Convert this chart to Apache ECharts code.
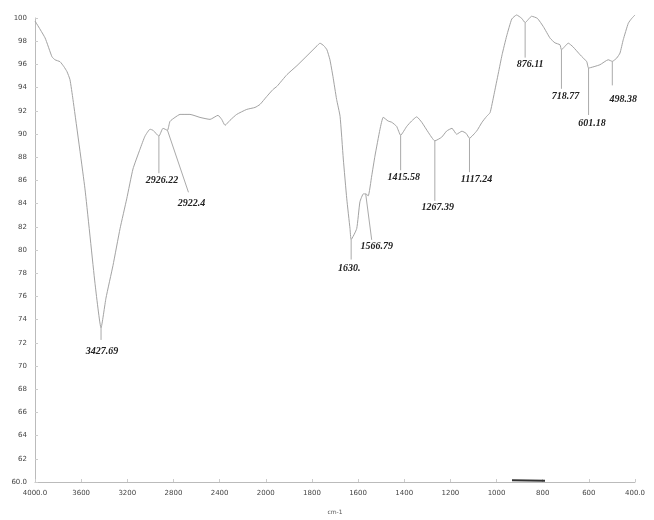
<!DOCTYPE html>
<html><head><meta charset="utf-8">
<script src="https://cdn.jsdelivr.net/npm/echarts@6/dist/echarts.min.js"></script>
<style>html,body{margin:0;padding:0;background:#fff}#c{width:654px;height:520px}</style>
</head><body><div id="c"></div>
<script>
// ---- data ----
const wavenumbers = [4000, 3913, 3853, 3827, 3783, 3749, 3723, 3697, 3671, 3567, 3480, 3427.69, 3385, 3324, 3263, 3205, 3151, 3090, 3047, 3003, 2977, 2926.22, 2891, 2852, 2830, 2787, 2743, 2657, 2570, 2483, 2414, 2382, 2353, 2310, 2252, 2165, 2093, 2050, 1996, 1969, 1951, 1908, 1865, 1821, 1778, 1765, 1748, 1735, 1722, 1709, 1693, 1678, 1664, 1649, 1635, 1630, 1606, 1592, 1577, 1567, 1556, 1541, 1527, 1505, 1491, 1470, 1454, 1433, 1415.58, 1389, 1368, 1346, 1324, 1296, 1267.39, 1238, 1216, 1193, 1173, 1150, 1132, 1117.24, 1086, 1063, 1043, 1028, 1011, 992, 976, 956, 934, 913, 891, 876.11, 848, 823, 797, 768, 747, 725, 718.77, 689, 669, 638, 609, 601.18, 552, 516, 498.38, 479, 465, 451, 429, 414, 400];
const transmittance = [99.74, 98.29, 96.66, 96.40, 96.23, 95.80, 95.38, 94.69, 92.98, 85.27, 77.13, 73.28, 75.85, 78.67, 81.84, 84.41, 86.98, 88.69, 89.81, 90.41, 90.32, 89.81, 90.49, 90.32, 91.09, 91.43, 91.69, 91.69, 91.43, 91.26, 91.61, 91.26, 90.75, 91.18, 91.69, 92.12, 92.29, 92.55, 93.23, 93.83, 94.12, 95.12, 95.89, 96.75, 97.60, 97.83, 97.60, 97.26, 96.40, 94.97, 92.98, 91.52, 87.84, 84.41, 81.84, 80.90, 81.84, 84.15, 84.84, 84.84, 84.67, 86.38, 88.09, 90.41, 91.44, 91.12, 91.01, 90.66, 89.89, 90.66, 91.12, 91.48, 91.01, 90.15, 89.41, 89.72, 90.26, 90.49, 89.98, 90.24, 90.06, 89.64, 90.26, 91.01, 91.52, 91.84, 93.40, 95.26, 96.83, 98.46, 99.91, 100.26, 99.97, 99.60, 100.15, 99.97, 99.25, 98.26, 97.86, 97.69, 97.26, 97.83, 97.52, 96.83, 96.23, 95.69, 95.97, 96.40, 96.26, 96.55, 96.98, 98.12, 99.55, 99.97, 100.26];
const xTickLabels = ['4000.0', '3600', '3200', '2800', '2400', '2000', '1800', '1600', '1400', '1200', '1000', '800', '600', '400.0'];
const yMin = 60, yMax = 100, yStep = 2;
const peakLabels = ['3427.69', '2926.22', '2922.4', '1630.', '1566.79', '1415.58', '1267.39', '1117.24', '876.11', '718.77', '601.18', '498.38'];
const peakAnchors = [3427.69, 2926.22, 2852, 1630, 1567, 1415.58, 1267.39, 1117.24, 876.11, 718.77, 601.18, 498.38];
const artifactW = [933, 790];
const artifactV = [60.15, 60.1];
const xAxisName = 'cm-1';

// ---- layout / styles ----
// leader line [dx, dy] and label offset [dx, dy] from leader end, in pixels
const leaderLayout = [
  [0, 12, 1, 11], [0, 37, 3, 7], [21, 62, 3, 11], [0, 20, -2, 9],
  [6, 46, 5, 7], [0, 35, 3, 7], [0, 60, 3, 7], [0, 34, 7, 7],
  [0, 35, 5, 7], [0, 39, 4, 8], [0, 47, 3.5, 8], [0, 24, 11, 14]
];

// FTIR axis: 400 cm-1 per division above 2000, 200 cm-1 per division below
function toU(w) { return w >= 2000 ? (4000 - w) / 400 : 5 + (2000 - w) / 200; }

const curve = wavenumbers.map((w, i) => [toU(w), transmittance[i]]);
function valueAt(w) {
  let best = 0;
  wavenumbers.forEach((x, i) => { if (Math.abs(x - w) < Math.abs(wavenumbers[best] - w)) best = i; });
  return transmittance[best];
}
const peaks = peakAnchors.map((w, i) => [toU(w), valueAt(w), i]);

const chart = echarts.init(document.getElementById('c'), null, { renderer: 'canvas' });
chart.setOption({
  animation: false,
  backgroundColor: '#fff',
  grid: { left: 35, right: 19, top: 18, bottom: 35, containLabel: false },
  xAxis: {
    type: 'value', min: 0, max: 13, interval: 1,
    name: xAxisName, nameLocation: 'middle', nameGap: 27,
    nameTextStyle: { fontSize: 6, color: '#555', fontFamily: 'DejaVu Sans' },
    axisLine: { lineStyle: { color: '#bbb', width: 1 } },
    axisTick: { show: true, inside: true, length: 3, lineStyle: { color: '#ccc' } },
    splitLine: { show: false },
    axisLabel: { fontSize: 7, color: '#444', margin: 8, fontFamily: 'DejaVu Sans',
      formatter: v => xTickLabels[Math.round(v)] }
  },
  yAxis: {
    type: 'value', min: yMin, max: yMax, interval: yStep,
    axisLine: { show: true, lineStyle: { color: '#bbb', width: 1 } },
    axisTick: { show: true, inside: true, length: 3, lineStyle: { color: '#ccc' } },
    splitLine: { show: false },
    axisLabel: { fontSize: 7, color: '#444', margin: 8, fontFamily: 'DejaVu Sans',
      formatter: v => v === yMin ? yMin.toFixed(1) : String(v) }
  },
  series: [
    {
      type: 'line', data: curve, showSymbol: false, clip: false, smooth: 0.15,
      lineStyle: { color: '#a3a3a3', width: 1 }
    },
    {
      type: 'line', data: artifactW.map((w, i) => [toU(w), artifactV[i]]),
      showSymbol: false, clip: false, lineStyle: { color: '#333', width: 2 }
    },
    {
      type: 'custom', data: peaks, clip: false, z: 5,
      renderItem: function (params, api) {
        const p = api.coord([api.value(0), api.value(1)]);
        const L = leaderLayout[params.dataIndex];
        const ex = p[0] + L[0], ey = p[1] + L[1];
        return {
          type: 'group',
          children: [
            { type: 'line', shape: { x1: p[0], y1: p[1], x2: ex, y2: ey },
              style: { stroke: '#aaa', lineWidth: 1 } },
            { type: 'text', x: ex + L[2], y: ey + L[3],
              style: { text: peakLabels[params.dataIndex], fill: '#222',
                fontSize: 10, fontWeight: 'bold', fontStyle: 'italic',
                fontFamily: 'Liberation Serif', align: 'center', verticalAlign: 'middle' } }
          ]
        };
      }
    }
  ]
});
</script>
</body></html>
